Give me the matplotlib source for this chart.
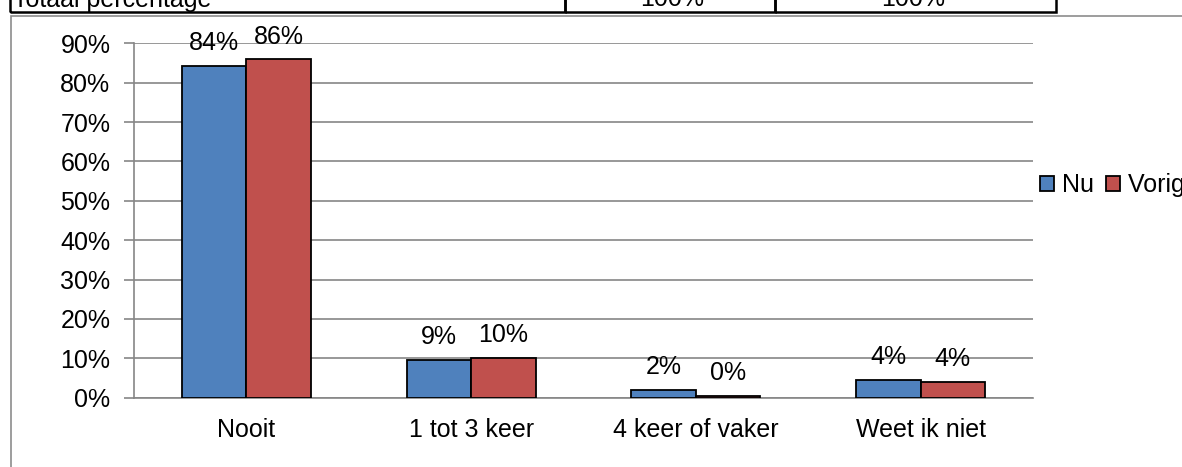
import matplotlib
matplotlib.use('Agg')
import matplotlib.pyplot as plt
from matplotlib.patches import Rectangle
import numpy as np

categories = ['Nooit', '1 tot 3 keer', '4 keer of vaker', 'Weet ik niet']
nu = [84.3, 9.5, 2.0, 4.5]
vorig = [85.9, 10.1, 0.4, 4.0]
nu_labels = ['84%', '9%', '2%', '4%']
vorig_labels = ['86%', '10%', '0%', '4%']
series_names = ['Nu', 'Vorige meting']
table_cells = ['Totaal percentage', '100%', '100%']

plt.rcParams['font.family'] = ['Liberation Sans', 'DejaVu Sans']
FS = 18
W, H = 1182, 467
fig = plt.figure(figsize=(W / 100, H / 100), dpi=100)

def fx(px):
    return px / W

def fy(py):
    return 1 - py / H

# Table row cut off at the top of the picture
for x0, x1 in [(10, 565), (565, 775), (775, 1056)]:
    fig.add_artist(Rectangle((fx(x0), fy(12)), fx(x1 - x0), fy(-30) - fy(12),
                             transform=fig.transFigure, fill=False, edgecolor='black', lw=1.8))
fig.text(fx(13), fy(6.5), table_cells[0], fontsize=FS, va='baseline', ha='left')
fig.text(fx(672), fy(6.5), table_cells[1], fontsize=FS, va='baseline', ha='center')
fig.text(fx(913), fy(6.5), table_cells[2], fontsize=FS, va='baseline', ha='center')

# Chart frame
fig.add_artist(Rectangle((fx(11), fy(480)), fx(1300), fy(15.5) - fy(480),
                         transform=fig.transFigure, fill=False, edgecolor='#8c8c8c', lw=1.2))

ax = fig.add_axes([fx(134), fy(397.6), fx(1033 - 134), fy(43.3) - fy(397.6)])
x = np.arange(len(categories))
w = 0.287
b1 = ax.bar(x - w / 2, nu, w, color='#4f81bd', edgecolor='black', lw=1.3, zorder=3)
b2 = ax.bar(x + w / 2, vorig, w, color='#c0504d', edgecolor='black', lw=1.3, zorder=3)

for bars, labels in [(b1, nu_labels), (b2, vorig_labels)]:
    for bar, lab in zip(bars, labels):
        ax.text(bar.get_x() + bar.get_width() / 2, bar.get_height() + 4.0, lab,
                ha='center', va='baseline', fontsize=FS)

ax.set_xlim(-0.5, len(categories) - 0.5)
ax.set_ylim(0, 90)
ax.set_yticks(range(0, 91, 10))
ax.set_yticklabels([f'{v}%' for v in range(0, 91, 10)], fontsize=FS)
ax.set_xticks(x)
ax.set_xticklabels(categories, fontsize=FS)
ax.tick_params(axis='x', length=0, pad=15)
ax.tick_params(axis='y', length=7, color='#868686', width=1.2, pad=10)
ax.grid(axis='y', color='#868686', lw=1.2, zorder=0)
for s in ['top', 'right']:
    ax.spines[s].set_visible(False)
for s in ['left', 'bottom']:
    ax.spines[s].set_color('#868686')
    ax.spines[s].set_linewidth(1.2)

# Legend (cut off at the right edge)
handles = [Rectangle((0, 0), 1, 1, facecolor='#4f81bd', edgecolor='black', lw=1.3),
           Rectangle((0, 0), 1, 1, facecolor='#c0504d', edgecolor='black', lw=1.3)]
fig.legend(handles, series_names, loc='center left', bbox_to_anchor=(fx(1040), fy(185)),
           ncol=2, frameon=False, fontsize=FS, handlelength=0.55, handleheight=0.55,
           handletextpad=0.35, columnspacing=0.45, borderaxespad=0, borderpad=0)

fig.savefig('out.png', dpi=100)
